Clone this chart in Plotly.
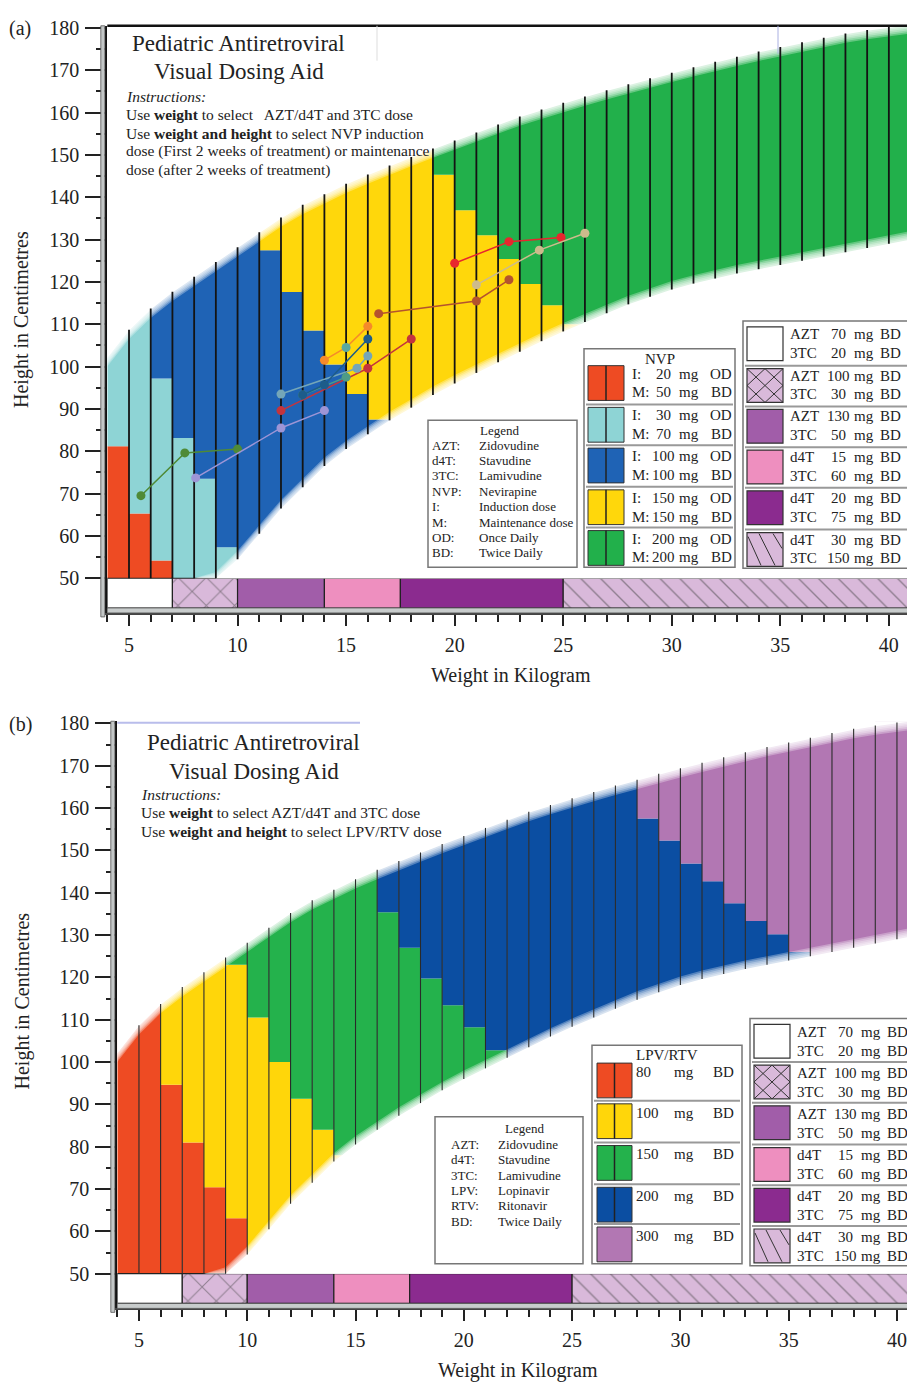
import numpy as np
import plotly.graph_objects as go

W, H = 907, 1383

# ---------------------------------------------------------------- data
WEIGHT_KNOTS = list(range(4, 42))                      # kg
UPPER_HEIGHT = [101.0, 107.5, 112.5, 116.5, 120.0, 123.5, 127.0, 130.5, 134.0, 137.0,
                139.5, 142.0, 144.2, 146.3, 148.3, 150.3, 152.2, 154.1, 156.0, 157.9,
                159.5, 161.1, 162.6, 164.1, 165.5, 166.9, 168.2, 169.5, 170.8, 172.0,
                173.2, 174.3, 175.4, 176.5, 177.5, 178.3, 179.0, 179.7]
LOWER_HEIGHT = [46.0, 46.5, 47.0, 47.5, 48.0, 50.5, 55.5, 61.5, 67.5, 72.5,
                77.5, 81.5, 85.0, 88.3, 91.3, 94.3, 97.0, 99.5, 102.0, 104.5,
                107.0, 109.3, 111.5, 113.6, 115.7, 117.5, 119.2, 120.6, 121.8, 123.0,
                124.0, 125.0, 126.0, 127.0, 128.0, 129.0, 130.0, 131.0]
COLUMN_LEFT = list(range(4, 41))                       # 1-kg columns

# panel (a): NVP dose band per column (first dose index + heights where dose steps up)
NVP_COLORS = ["#EE4B23", "#8ED4D5", "#1F63B5", "#FFD70B", "#22B04B"]
NVP_FIRST_DOSE = [0, 0, 0, 1, 1, 1, 2, 2, 2, 2, 2, 2, 2, 3, 3, 3, 3, 3, 3, 3, 3, 3] + [4] * 15
NVP_DOSE_BREAKS = [[81.2], [65.3], [54.2, 97.2], [83.1], [73.5], [57.3], [], [127.5], [117.6],
                   [108.5], [100.5], [93.5], [87.5], [], [], [145.3], [136.9], [131.0],
                   [125.4], [119.5], [114.5], [110.0]] + [[] for _ in range(15)]
NVP_ROWS = [("20", "50"), ("30", "70"), ("100", "100"), ("150", "150"), ("200", "200")]

# panel (b): LPV/RTV dose band per column
LPV_COLORS = ["#EE4B23", "#FFD60A", "#24B24C", "#0B4EA2", "#B277B3"]
LPV_FIRST_DOSE = [0] * 6 + [1] * 5 + [2] * 7 + [3] * 14 + [4] * 5
LPV_DOSE_BREAKS = [[], [], [94.6], [81.0], [70.4], [63.1, 123.0],
                   [110.5], [100.0], [91.3], [84.0], [78.0],
                   [], [135.4], [127.0], [119.7], [113.4], [108.2], [102.8],
                   [], [], [], [], [], [],
                   [157.5], [152.3], [146.9], [142.7], [137.5], [133.3], [130.2], [126.0],
                   [], [], [], [], []]
LPV_ROWS = ["80", "100", "150", "200", "300"]

# AZT / d4T + 3TC weight bands (bottom strip)
STRIP_EDGES = [4, 7, 10, 14, 17.5, 25, 41]
STRIP_COLORS = ["#FFFFFF", "#D9B9DA", "#A15DA9", "#EE8FBF", "#8B2B8F", "#D9B9DA"]
STRIP_PATTERNS = ["", "x", "", "", "", "\\"]
ARV_ROWS = [("AZT", "70", "3TC", "20"), ("AZT", "100", "3TC", "30"), ("AZT", "130", "3TC", "50"),
            ("d4T", "15", "3TC", "60"), ("d4T", "20", "3TC", "75"), ("d4T", "30", "3TC", "150")]

# growth trajectories plotted on panel (a)
TRAJ_COLORS = ["#4F8A36", "#9D95D6", "#C4343D", "#74A6B8", "#4E9C86",
               "#1D5C8A", "#F58A2A", "#B4532E", "#E8262E", "#CDBB8C"]
TRAJ_WEIGHTS = [[5.55, 7.57, 10.0], [8.07, 12.0, 14.0], [12.0, 16.0, 18.0], [12.0, 15.5, 16.0],
                [13.0, 15.0], [13.0, 14.0, 16.0], [14.0, 15.0, 16.0], [16.5, 21.0, 22.5],
                [20.0, 22.5, 24.9], [21.0, 23.9, 26.0]]
TRAJ_HEIGHTS = [[69.5, 79.6, 80.5], [73.7, 85.5, 89.6], [89.6, 99.6, 106.5], [93.5, 99.6, 102.5],
                [93.3, 97.5], [93.3, 95.7, 106.5], [101.5, 104.5, 109.5], [112.5, 115.5, 120.5],
                [124.4, 129.5, 130.5], [119.3, 127.5, 131.5]]
TRAJ_MARKERS = [None, None, None, None, None, None, ["#F58A2A", "#5AA89F", "#F58A2A"], None, None, None]

X_TICKS = [5, 10, 15, 20, 25, 30, 35, 40]
X_MINOR = [w for w in range(4, 41) if w % 5]
Y_TICKS = list(range(50, 181, 10))
Y_MINOR = list(range(55, 180, 10))

# ---------------------------------------------------------------- helpers
FONT = "Liberation Serif, Times New Roman, serif"
INK = "#222222"
UP = dict(zip(WEIGHT_KNOTS, UPPER_HEIGHT))
LO = dict(zip(WEIGHT_KNOTS, LOWER_HEIGHT))
Y_RANGE = [41.8, 180.5]
STRIP_BASE, STRIP_TOP = 42.96, 50.0

shapes, annotations = [], []


def fx(px):
    return px / W


def fy(py):
    return 1 - py / H


def rect(x0, y0, x1, y1, fill="white", line="#666", lw=1.2):
    shapes.append(dict(type="rect", xref="paper", yref="paper", x0=fx(x0), x1=fx(x1),
                       y0=fy(y1), y1=fy(y0), fillcolor=fill, line=dict(color=line, width=lw),
                       layer="above"))


def seg(x0, y0, x1, y1, color=INK, lw=1.0):
    shapes.append(dict(type="line", xref="paper", yref="paper", x0=fx(x0), x1=fx(x1),
                       y0=fy(y0), y1=fy(y1), line=dict(color=color, width=lw), layer="above"))


def text(x, y, s, size=15, xanchor="left", angle=0):
    annotations.append(dict(xref="paper", yref="paper", x=fx(x), y=fy(y), text=s,
                            showarrow=False, xanchor=xanchor, yanchor="middle",
                            textangle=angle, font=dict(family=FONT, size=size, color=INK)))


fig = go.Figure()

PANELS = [
    dict(xa="x", ya="y", first=NVP_FIRST_DOSE, breaks=NVP_DOSE_BREAKS, colors=NVP_COLORS,
         grid="#141414", grid_w=1.8),
    dict(xa="x2", ya="y2", first=LPV_FIRST_DOSE, breaks=LPV_DOSE_BREAKS, colors=LPV_COLORS,
         grid="#2a2a2a", grid_w=1.1),
]

knots = np.array(WEIGHT_KNOTS, float)
xs_ext = np.concatenate([[knots[0] - 1], knots, [knots[-1] + 1]])
up_ext = np.concatenate([[UPPER_HEIGHT[0]], UPPER_HEIGHT, [UPPER_HEIGHT[-1]]])
lo_ext = np.concatenate([[LOWER_HEIGHT[0]], LOWER_HEIGHT, [LOWER_HEIGHT[-1]]])
FADE = [(-1.0, 0.3), (-0.6, 0.3), (-0.2, 0.3), (0.2, 0.3), (0.6, 0.35), (1.0, 1.0)]

for p in PANELS:
    # dose columns
    per_dose = {k: dict(x=[], base=[], y=[]) for k in range(5)}
    for c, f, br in zip(COLUMN_LEFT, p["first"], p["breaks"]):
        top = max(UP[c], UP[c + 1]) + 2.0
        edges = [50.0] + list(br) + [top]
        for k in range(len(edges) - 1):
            d = per_dose[f + k]
            d["x"].append(c + 0.5)
            d["base"].append(edges[k])
            d["y"].append(edges[k + 1] - edges[k])
    for k, d in per_dose.items():
        if d["x"]:
            fig.add_trace(go.Bar(x=d["x"], base=d["base"], y=d["y"], width=1.0,
                                 marker=dict(color=p["colors"][k], line=dict(width=0)),
                                 xaxis=p["xa"], yaxis=p["ya"], hoverinfo="skip", showlegend=False))
    # AZT/d4T strip
    mids = [(a + b) / 2 for a, b in zip(STRIP_EDGES[:-1], STRIP_EDGES[1:])]
    wids = [b - a for a, b in zip(STRIP_EDGES[:-1], STRIP_EDGES[1:])]
    fig.add_trace(go.Bar(x=mids, width=wids, base=[STRIP_BASE] * len(mids),
                         y=[STRIP_TOP - STRIP_BASE] * len(mids),
                         marker=dict(color=STRIP_COLORS, line=dict(color="#222", width=1.2),
                                     pattern=dict(shape=STRIP_PATTERNS, fgcolor="#333",
                                                  size=[10, 20, 10, 10, 10, 14], solidity=0.1,
                                                  fillmode="overlay")),
                         xaxis=p["xa"], yaxis=p["ya"], hoverinfo="skip", showlegend=False))
    # soft white edges above upper and below lower boundaries
    for off, a in FADE:
        fig.add_trace(go.Scatter(x=list(xs_ext) + list(xs_ext[::-1]),
                                 y=list(up_ext + off) + [185.0] * len(xs_ext),
                                 fill="toself", fillcolor=f"rgba(255,255,255,{a})", mode="lines",
                                 line=dict(width=0), xaxis=p["xa"], yaxis=p["ya"],
                                 hoverinfo="skip", showlegend=False))
        fig.add_trace(go.Scatter(x=list(xs_ext) + list(xs_ext[::-1]),
                                 y=list(np.maximum(lo_ext - off, 50.0)) + [50.0] * len(xs_ext),
                                 fill="toself", fillcolor=f"rgba(255,255,255,{a})", mode="lines",
                                 line=dict(width=0), xaxis=p["xa"], yaxis=p["ya"],
                                 hoverinfo="skip", showlegend=False))
    # column separators
    lx, ly = [], []
    for w in range(5, 41):
        lx += [w, w, None]
        ly += [max(50.0, LO[w] - 1.0), UP[w] + 1.2, None]
    fig.add_trace(go.Scatter(x=lx, y=ly, mode="lines", line=dict(color=p["grid"], width=p["grid_w"]),
                             xaxis=p["xa"], yaxis=p["ya"], hoverinfo="skip", showlegend=False))

for col, xs, ys, mk in zip(TRAJ_COLORS, TRAJ_WEIGHTS, TRAJ_HEIGHTS, TRAJ_MARKERS):
    fig.add_trace(go.Scatter(x=xs, y=ys, mode="lines+markers", line=dict(color=col, width=1.5),
                             marker=dict(color=mk if mk else col, size=9),
                             xaxis="x", yaxis="y", hoverinfo="skip", showlegend=False))

# ---------------------------------------------------------------- axes
TICK_FONT = dict(family=FONT, size=20, color=INK)
A_X0, A_PPK, A_TOP, A_BOT = 107.3, 21.71, 16.9, 607.9
B_X0, B_PPK, B_TOP, B_BOT = 117.3, 21.657, 716.9, 1307.9


def xaxis_cfg(x0, ppk, anchor):
    return dict(domain=[x0 / W, 1.0], range=[4, 4 + (W - x0) / ppk], anchor=anchor,
                tickmode="array", tickvals=X_TICKS, ticks="outside", ticklen=11, tickwidth=1.5,
                tickcolor=INK, minor=dict(tickmode="array", tickvals=X_MINOR, ticks="outside",
                                          ticklen=7, tickwidth=1.5, tickcolor=INK),
                showline=True, linecolor="#444", linewidth=1.5, showgrid=False, zeroline=False,
                tickfont=TICK_FONT, ticklabelstandoff=2, fixedrange=True)


def yaxis_cfg(top, bot, anchor):
    return dict(domain=[1 - bot / H, 1 - top / H], range=Y_RANGE, anchor=anchor,
                tickmode="array", tickvals=Y_TICKS, ticks="outside", ticklen=20, tickwidth=1.5,
                tickcolor=INK, minor=dict(tickmode="array", tickvals=Y_MINOR, ticks="outside",
                                          ticklen=9, tickwidth=1.5, tickcolor=INK),
                showline=True, linecolor="#111", linewidth=2, showgrid=False, zeroline=False,
                tickfont=TICK_FONT, ticklabelstandoff=2, fixedrange=True)


# frame decorations
for x0, top, bot in [(A_X0, A_TOP, A_BOT), (B_X0, B_TOP, B_BOT)]:
    rect(x0 - 6.5, top, x0 - 2.5, bot + 4, fill="#C3C7C7", line="#555", lw=0.8)
    rect(x0, bot - 5, W + 5, bot, fill="#C8CCCC", line="#555", lw=0.8)
seg(A_X0, A_TOP, W + 2, A_TOP, "#111", 2.5)
seg(778, A_TOP, 778, 45, "#AAB0E2", 1)
seg(377, A_TOP, 377, 52, "#DDDDDD", 1)
seg(B_X0, 718.5, 360, 718.5, "#B9BDEB", 2)

# ---------------------------------------------------------------- text blocks
text(20, 20, "(a)", 20, "center")
text(20, 720, "(b)", 20, "center")
text(22, 313, "Height in Centimetres", 20, "center", -90)
text(22, 999, "Height in Centimetres", 20, "center", -90)
text(511, 671, "Weight in Kilogram", 20, "center")
text(518, 1370, "Weight in Kilogram", 20, "center")

text(238, 35, "Pediatric Antiretroviral", 23, "center")
text(239, 63, "Visual Dosing Aid", 23, "center")
text(124, 88, "<i>Instructions:</i>", 15.5)
text(124, 106, "Use <b>weight</b> to select &nbsp; AZT/d4T and 3TC dose", 15.5)
text(124, 125, "Use <b>weight and height</b> to select NVP induction", 15.5)
text(124, 143, "dose (First 2 weeks of treatment) or maintenance", 15.5)
text(124, 162, "dose (after 2 weeks of treatment)", 15.5)

text(253, 738, "Pediatric Antiretroviral", 23, "center")
text(254, 767, "Visual Dosing Aid", 23, "center")
text(139, 791, "<i>Instructions:</i>", 15.5)
text(139, 809, "Use <b>weight</b> to select AZT/d4T and 3TC dose", 15.5)
text(139, 828, "Use <b>weight and height</b> to select LPV/RTV dose", 15.5)

# ---------------------------------------------------------------- legend boxes
ABBREV_A = [("AZT:", "Zidovudine"), ("d4T:", "Stavudine"), ("3TC:", "Lamivudine"),
            ("NVP:", "Nevirapine"), ("I:", "Induction dose"), ("M:", "Maintenance dose"),
            ("OD:", "Once Daily"), ("BD:", "Twice Daily")]
ABBREV_B = [("AZT:", "Zidovudine"), ("d4T:", "Stavudine"), ("3TC:", "Lamivudine"),
            ("LPV:", "Lopinavir"), ("RTV:", "Ritonavir"), ("BD:", "Twice Daily")]

rect(428, 414, 577, 562, line="#777", lw=1.5)
text(499, 424, "Legend", 13, "center")
for i, (a, b) in enumerate(ABBREV_A):
    text(430, 439 + i * 15.5, a, 13)
    text(477, 439 + i * 15.5, b, 13)

rect(435, 1115, 583, 1263, line="#777", lw=1.5)
text(524, 1127, "Legend", 13, "center")
for i, (a, b) in enumerate(ABBREV_B):
    text(449, 1143 + i * 15.4, a, 13)
    text(496, 1143 + i * 15.4, b, 13)

# NVP box
rect(584, 342, 735, 562, line="#777", lw=1.5)
text(660, 352, "NVP", 15, "center")
nvp_tops = [359, 401, 442, 484, 525]
for k, y0 in enumerate(nvp_tops):
    if k:
        seg(586, y0 - 3, 733, y0 - 3, "#999", 2)
    rect(588, y0, 624, y0 + 35, fill=NVP_COLORS[k], line="#333", lw=1)
    seg(606, y0, 606, y0 + 35, "#222", 1.5)
    for j, (tag, dose, freq) in enumerate([("I:", NVP_ROWS[k][0], "OD"), ("M:", NVP_ROWS[k][1], "BD")]):
        yy = y0 + 8 + 19 * j
        text(630, yy, tag, 15)
        text(663, yy, dose, 15, "center")
        text(689, yy, "mg", 15, "center")
        text(734, yy, freq, 15, "right")

# LPV/RTV box
rect(592, 1043, 742, 1263, line="#777", lw=1.5)
text(667, 1053, "LPV/RTV", 15, "center")
lpv_tops = [1061, 1102, 1144, 1186, 1226]
for k, y0 in enumerate(lpv_tops):
    if k:
        seg(594, y0 - 3, 740, y0 - 3, "#999", 2)
    rect(597, y0, 632, y0 + 35, fill=LPV_COLORS[k], line="#333", lw=1)
    if k < 4:
        seg(614.5, y0, 614.5, y0 + 35, "#222", 1.5)
    yy = y0 + 9
    text(634, yy, LPV_ROWS[k], 15)
    text(684, yy, "mg", 15, "center")
    text(736, yy, "BD", 15, "right")


def arv_box(bx0, by0, by1, tops, sx0, drug_x, num_x, mg_x, bd_x, bd_anchor, dy):
    rect(bx0, by0, W + 6, by1, line="#777", lw=1.5)
    for k, y0 in enumerate(tops):
        if k:
            seg(bx0 + 2, y0 - 3, W + 4, y0 - 3, "#999", 2)
        x0, x1, y1 = sx0, sx0 + 36, y0 + 34
        rect(x0, y0, x1, y1, fill=STRIP_COLORS[k], line="#333", lw=1.2)
        if STRIP_PATTERNS[k] == "x":
            xm, ym = (x0 + x1) / 2, (y0 + y1) / 2
            seg(x0, y0, x1, y1, "#333", 1)
            seg(x0, y1, x1, y0, "#333", 1)
            seg(xm, y0, x1, ym, "#333", 1)
            seg(x1, ym, xm, y1, "#333", 1)
            seg(xm, y1, x0, ym, "#333", 1)
            seg(x0, ym, xm, y0, "#333", 1)
        elif STRIP_PATTERNS[k] == "\\":
            seg(x0 + 1, y0 + 4, x0 + 14, y1 - 1, "#333", 1)
            seg(x0 + 12, y0 + 1, x0 + 28, y1 - 1, "#333", 1)
            seg(x0 + 26, y0 + 1, x1 - 1, y0 + 16, "#333", 1)
        d1, n1, d2, n2 = ARV_ROWS[k]
        for j, (dr, nm) in enumerate([(d1, n1), (d2, n2)]):
            yy = y0 + dy + 19 * j
            text(drug_x, yy, dr, 15)
            text(num_x, yy, nm, 15, "center")
            text(mg_x, yy, "mg", 15, "center")
            text(bd_x, yy, "BD", 15, bd_anchor)


arv_box(743, 314, 563, [320, 362, 403, 444, 485, 527], 747, 788, 838, 864, 903, "right", 7)
arv_box(750, 1016, 1265, [1022, 1063, 1104, 1146, 1187, 1228], 754, 795, 845, 871, 885, "left", 8)

fig.update_layout(
    width=W, height=H, margin=dict(l=0, r=0, t=0, b=0),
    paper_bgcolor="white", plot_bgcolor="white", barmode="overlay", showlegend=False,
    xaxis=xaxis_cfg(A_X0, A_PPK, "y"), yaxis=yaxis_cfg(A_TOP, A_BOT, "x"),
    xaxis2=xaxis_cfg(B_X0, B_PPK, "y2"), yaxis2=yaxis_cfg(B_TOP, B_BOT, "x2"),
    shapes=shapes, annotations=annotations,
)
fig.write_html("out.html", config={"displayModeBar": False},
               post_script="document.body.style.margin='0';document.body.style.overflow='hidden';")
